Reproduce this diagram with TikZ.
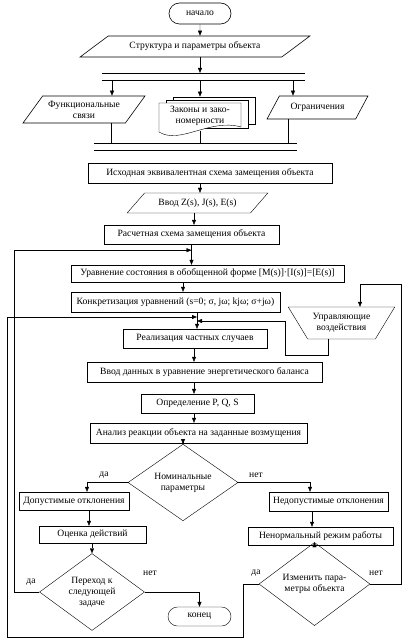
\documentclass[tikz,border=0pt]{standalone}
\usepackage{fontspec}
\setmainfont{Liberation Serif}
\usetikzlibrary{shapes.geometric, shapes.misc, arrows.meta, positioning, calc, backgrounds}

\begin{document}
\begin{tikzpicture}[
      x=1pt, y=-1pt,
      font=\fontsize{9.6}{11}\selectfont,
      line width=0.6pt,
      box/.style={rectangle, draw, align=center, inner sep=1pt},
      term/.style={rounded rectangle, draw, align=center, inner sep=1pt},
      io/.style={trapezium, trapezium stretches=true, draw, align=center, inner sep=1pt},
      cond/.style={diamond, draw, align=center, inner sep=0pt},
      bus/.style={rectangle, inner sep=0pt, minimum height=6.5pt},
      arrow/.style={-{Triangle[length=5pt, width=4pt]}},
      lbl/.style={inner sep=0pt}
    ]
    \useasboundingbox (0,0) rectangle (416,642);

    % upper part
    \node[term, minimum width=64pt, minimum height=21pt] (start) at (200,13.5) {начало};
    \node[io, trapezium left angle=27, trapezium right angle=153, minimum width=230pt, minimum height=21pt] (struct) at (195,46.5) {Структура и параметры объекта};
    \node[bus, minimum width=203pt] (bus1) at (203.5,76.5) {};
    \draw (bus1.north west) -- (bus1.north east) (bus1.south west) -- (bus1.south east);

    \node[io, trapezium left angle=48, trapezium right angle=132, minimum width=122pt, minimum height=27pt] (func) at (84,109.5) {Функциональные\\связи};
    \node[align=center, inner sep=1pt, minimum width=82pt, minimum height=30pt] (laws) at (200,116) {Законы и зако-\\номерности};
    \node[io, trapezium left angle=49, trapezium right angle=131, minimum width=101pt, minimum height=23pt] (limits) at (317.5,107.5) {Ограничения};
    \begin{pgfonlayer}{background}
      \draw[fill=white] ($(laws)+(-27,-19)$) rectangle ($(laws)+(55,8)$);
      \draw[fill=white] ($(laws)+(-34,-16)$) rectangle ($(laws)+(48,12)$);
      \draw[fill=white] ($(laws)+(-41,16)$) -- ($(laws)+(-41,-13)$) -- ($(laws)+(41,-13)$) -- ($(laws)+(41,11)$)
        .. controls ($(laws)+(10,2)$) and ($(laws)+(-20,29)$) .. cycle;
    \end{pgfonlayer}
    \node[bus, minimum width=203pt] (bus2) at (195.5,147) {};
    \draw (bus2.north west) -- (bus2.north east) (bus2.south west) -- (bus2.south east);

    \coordinate (fx) at (112,0);
    \coordinate (fo) at (111,0);
    \coordinate (lx) at (293,0);
    \coordinate (lo) at (288,0);
    \coordinate (lawsTop) at ($(laws.north)+(0,-4)$);

    \draw[arrow] (start) -- (start |- struct.north);
    \draw[arrow] (start |- struct.south) -- (start |- bus1.north);
    \draw[arrow] (fx |- bus1.south) -- (fx |- func.north);
    \draw[arrow] (bus1.south -| lawsTop) -- (lawsTop);
    \draw[arrow] (lx |- bus1.south) -- (lx |- limits.north);
    \draw (fo |- func.south) -- (fo |- bus2.north);
    \draw (laws.south) -- (laws.south |- bus2.north);
    \draw (lo |- limits.south) -- (lo |- bus2.north);

    % main column
    \node[box, minimum width=244pt, minimum height=20pt] (equiv) at (210,173) {Исходная эквивалентная схема замещения объекта};
    \node[io, trapezium left angle=39, trapezium right angle=141, minimum width=141pt, minimum height=20pt] (input) at (197.5,203) {Ввод Z(s), J(s), E(s)};
    \node[box, minimum width=175pt, minimum height=19pt] (calc) at (191.5,234.5) {Расчетная схема замещения объекта};
    \node[box, minimum width=273pt, minimum height=17pt] (state) at (207.5,273.5) {Уравнение состояния в обобщенной форме [M(s)]·[I(s)]=[E(s)]};
    \node[box, minimum width=209pt, minimum height=20pt] (concr) at (175.5,302) {Конкретизация уравнений (s=0; σ, jω; kjω; σ+jω)};
    \node[trapezium, trapezium angle=51, trapezium stretches=true, shape border rotate=180, draw, align=center, inner sep=1pt, minimum width=107pt, minimum height=32pt] (control) at (341.5,323) {Управляющие\\воздействия};
    \node[box, minimum width=144pt, minimum height=19pt] (real) at (195,338.5) {Реализация частных случаев};
    \node[box, minimum width=235pt, minimum height=20pt] (energy) at (204.5,372) {Ввод данных в уравнение энергетического баланса};
    \node[box, minimum width=113pt, minimum height=19pt] (pqs) at (197.5,403.5) {Определение P, Q, S};
    \node[box, minimum width=217pt, minimum height=20pt] (anal) at (198.5,433) {Анализ реакции объекта на заданные возмущения};

    \coordinate (j1) at ($(calc.south)+(0,6)$);
    \coordinate (cx) at (183,0);
    \coordinate (rx) at (197,0);
    \coordinate (ex) at (194,0);
    \coordinate (j2) at (rx |- 0,317);
    \coordinate (j3) at (rx |- 0,321);

    \draw[arrow] (start |- equiv.south) -- (start |- input.north);
    \draw[arrow] (ex |- input.south) -- (ex |- calc.north);
    \draw[arrow] (calc.south) -- (calc.south |- state.north);
    \draw[arrow] (cx |- state.south) -- (cx |- concr.north);
    \draw[arrow] (rx |- concr.south) -- (rx |- real.north);
    \draw[arrow] (ex |- real.south) -- (ex |- energy.north);
    \draw[arrow] (ex |- energy.south) -- (ex |- pqs.north);
    \draw[arrow] (ex |- pqs.south) -- (ex |- anal.north);

    % lower part
    \node[cond, minimum width=110pt, minimum height=49pt] (nom) at (183,482.5) {Номинальные\\параметры};
    \node[box, minimum width=110pt, minimum height=18pt] (ok) at (74,501) {Допустимые отклонения};
    \node[box, minimum width=119pt, minimum height=19pt] (notok) at (328.5,501.5) {Недопустимые отклонения};
    \node[box, minimum width=107pt, minimum height=17pt] (est) at (92.5,534.5) {Оценка действий};
    \node[box, minimum width=145pt, minimum height=18pt] (abn) at (320.5,536) {Ненормальный режим работы};
    \node[cond, minimum width=105pt, minimum height=70pt] (next) at (92,592) {Переход к\\следующей\\задаче};
    \node[cond, minimum width=111pt, minimum height=48pt] (change) at (314.5,584) {Изменить пара-\\метры объекта};
    \node[term, minimum width=65pt, minimum height=19pt] (end) at (199.5,616.5) {конец};

    \coordinate (okx) at (87,0);
    \coordinate (ox) at (89,0);
    \coordinate (nx) at (310,0);
    \coordinate (ax) at (312,0);
    \coordinate (loopA) at (14,0);
    \coordinate (loopB) at (7,637);
    \coordinate (loopC) at (243,0);
    \coordinate (loopR) at (401,0);
    \coordinate (ctlIn) at (360,284);
    \coordinate (ctlOut) at (328,355);
    \coordinate (ctlBack) at (285,0);

    \draw[arrow] (nom.north |- anal.south) -- (nom.north);
    \draw[arrow] (nom.west) -| (okx |- ok.north);
    \draw[arrow] (nom.east) -| (nx |- notok.north);
    \draw[arrow] (ox |- ok.south) -- (ox |- est.north);
    \draw[arrow] (next.north |- est.south) -- (next.north);
    \draw[arrow] (ax |- notok.south) -- (ax |- abn.north);
    \draw[arrow] (change.north |- abn.south) -- (change.north);
    \draw[arrow] (next.east) -| (end.north);

    % loops
    \draw[arrow] (next.west) -- (next.west -| loopA) |- (j1);
    \draw[arrow] (change.west) -- (change.west -| loopC) |- (loopB) |- (j2);
    \draw[arrow] (change.east) -- (change.east -| loopR) |- (ctlIn) -- (ctlIn |- control.north);
    \draw[arrow] (ctlOut |- control.south) -- (ctlOut) -| (ctlBack |- j3) -- (j3);

    % labels
    \node[lbl] at (104,475) {да};
    \node[lbl] at (256,475) {нет};
    \node[lbl] at (31,582) {да};
    \node[lbl] at (150,573) {нет};
    \node[lbl] at (256,573) {да};
    \node[lbl] at (376,573) {нет};
  \end{tikzpicture}
\end{document}
